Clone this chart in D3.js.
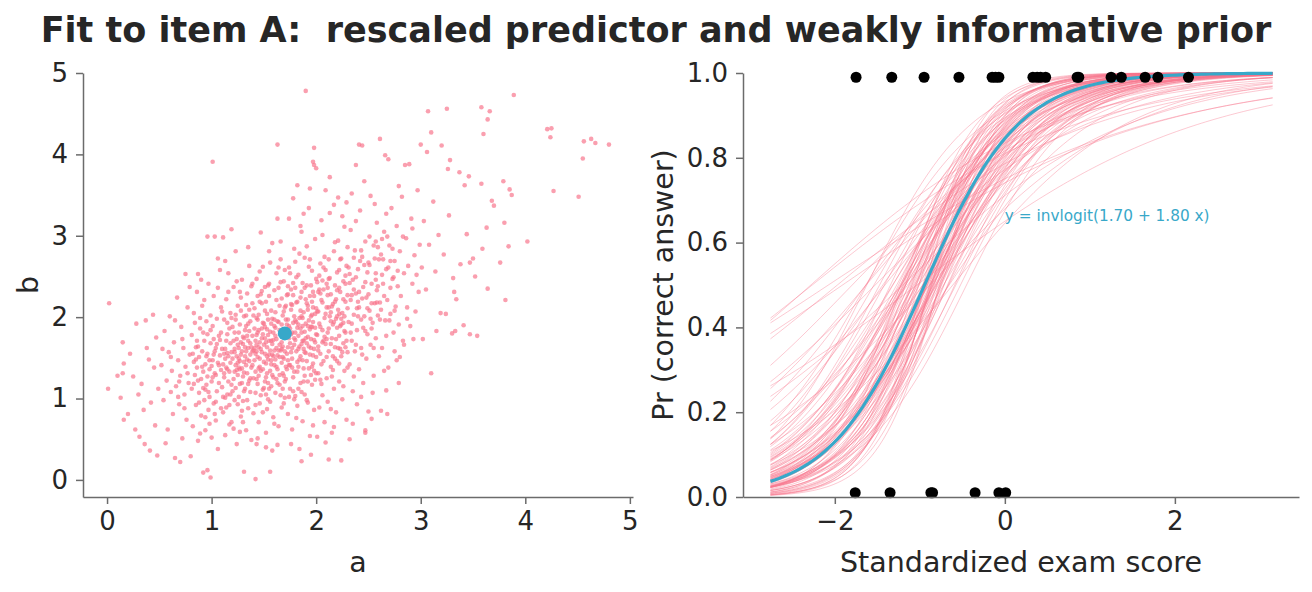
<!DOCTYPE html>
<html>
<head>
<meta charset="utf-8">
<script src="https://d3js.org/d3.v7.min.js"></script>
<style>
  body { margin: 0; background: #fff; }
  svg { display: block; }
  text { font-family: "DejaVu Sans", sans-serif; fill: #262626; white-space: pre; }
  .axis .domain, .axis .tick line { stroke: #6b6b6b; stroke-width: 1.5; }
  .axis .tick text { font-size: 26px; fill: #262626; }
</style>
</head>
<body>
<div id="chart"></div>
<script>
const chartTitle = "Fit to item A:  rescaled predictor and weakly informative prior";

// posterior draws of (a, b)
const posteriorDraws = [
  [0.02,2.17],[0.01,1.12],[0.13,1.01],[0.16,1.43],[0.15,1.31],[0.10,1.28],[0.16,0.74],[0.20,0.81],[0.15,1.69],[0.27,0.62],
  [0.31,0.53],[0.36,0.44],[0.41,0.36],[0.48,0.30],[0.22,1.55],[0.28,1.92],[0.33,1.18],[0.38,1.62],[0.42,0.95],[0.45,1.38],
  [0.30,1.05],[0.47,1.75],[0.35,0.86],[0.44,2.03],[0.25,1.27],[0.40,1.48],[0.49,1.12],[0.37,1.96],[0.46,0.67],
  [0.65,0.27],[0.70,0.22],[0.75,2.53],[0.80,0.29],[0.52,1.41],[0.54,0.98],[0.55,1.83],[0.57,1.22],[0.58,0.62],[0.59,1.57],
  [0.60,2.01],[0.61,1.08],[0.62,1.34],[0.63,0.81],[0.64,1.69],[0.66,1.15],[0.67,2.24],[0.68,1.47],[0.69,0.93],[0.70,1.28],
  [0.71,1.88],[0.72,0.51],[0.73,1.62],[0.74,1.05],[0.75,1.39],[0.76,0.74],[0.77,2.12],[0.78,1.19],[0.79,1.54],[0.53,1.61],
  [0.56,0.45],[0.65,1.96],[0.69,1.21],[0.72,1.73],[0.74,0.88],[0.77,1.31],[0.79,2.37],[0.61,1.51],[0.68,1.02],
  [0.87,2.53],[0.92,0.09],[0.96,0.12],[0.99,0.03],[0.96,2.99],[1.01,3.91],[1.03,2.99],
  [0.81,1.12],[0.81,1.78],[0.82,0.66],[0.83,1.45],[0.83,2.05],[0.84,1.29],[0.85,0.92],[0.85,1.63],[0.86,1.38],[0.86,2.31],
  [0.87,0.48],[0.88,1.51],[0.88,1.07],[0.89,1.86],[0.90,1.24],[0.90,0.79],[0.91,1.58],[0.91,2.14],[0.92,1.33],[0.93,0.98],
  [0.93,1.71],[0.94,1.42],[0.94,0.61],[0.95,1.95],[0.95,1.17],[0.96,1.55],[0.97,0.86],[0.97,2.41],[0.98,1.36],[0.98,1.02],
  [0.99,1.68],[1.00,1.21],[1.00,0.52],[1.01,1.89],[1.01,1.47],[1.02,0.94],[1.02,2.26],[1.03,1.31],[1.04,1.62],[1.04,0.73],
  [1.05,1.09],[1.05,1.98],[1.06,1.44],[1.06,0.38],[1.07,1.77],[1.07,1.19],[1.08,2.58],[1.08,1.53],[1.09,0.88],[1.09,1.35],
  [1.10,2.07],[1.10,1.14],[0.84,1.93],[0.87,1.22],[0.89,0.57],[0.92,1.81],[0.96,1.27],[0.99,2.02],[1.03,1.58],[1.06,2.72],
  [0.82,1.55],[0.90,2.46],[0.94,1.11],[0.98,0.69],[1.02,1.73],
  [1.11,2.98],[1.31,0.10],[1.11,1.42],[1.11,0.83],[1.12,1.97],[1.12,1.26],[1.13,1.61],[1.13,0.55],[1.14,2.22],[1.14,1.38],
  [1.15,1.05],[1.15,1.79],[1.16,1.52],[1.16,2.54],[1.17,0.92],[1.17,1.33],[1.18,1.68],[1.18,2.05],[1.19,1.17],[1.19,0.71],
  [1.20,1.49],[1.20,1.88],[1.21,1.24],[1.21,2.37],[1.22,0.98],[1.22,1.57],[1.23,1.41],[1.23,2.81],[1.24,1.73],[1.24,0.44],
  [1.25,1.29],[1.25,2.14],[1.26,1.62],[1.26,1.02],[1.27,1.91],[1.27,1.36],[1.28,0.78],[1.28,1.54],[1.29,2.46],[1.29,1.19],
  [1.30,1.67],[1.30,0.97],[1.31,2.01],[1.31,1.45],[1.32,1.12],[1.32,1.84],[1.33,0.61],[1.33,1.58],[1.34,2.29],[1.34,1.31],
  [1.35,1.71],[1.35,0.88],[1.36,1.46],[1.36,2.63],[1.37,1.08],[1.37,1.95],[1.38,1.38],[1.38,0.49],[1.39,1.77],[1.39,2.17],
  [1.40,1.25],[1.40,1.59],[1.12,1.55],[1.14,1.71],[1.16,1.21],[1.18,1.44],[1.20,1.09],[1.22,1.81],[1.24,1.35],[1.26,1.49],
  [1.28,2.08],[1.30,1.27],[1.32,1.52],[1.34,0.98],[1.36,1.83],[1.38,1.63],[1.13,2.69],[1.17,1.86],[1.21,0.63],[1.25,1.66],
  [1.29,0.85],[1.33,2.02],[1.37,1.54],[1.15,1.36],[1.19,1.99],[1.23,1.13],[1.27,0.59],[1.31,1.74],[1.35,1.18],[1.39,2.41],
  [1.13,1.01],[1.19,3.08],[1.27,2.31],[1.33,1.41],[1.29,1.58],[1.23,1.97],[1.35,2.86],
  [1.42,0.01],[1.43,0.44],[1.52,0.40],[1.56,0.10],[1.63,0.43],[1.63,4.12],
  [1.41,1.62],[1.41,2.11],[1.42,1.33],[1.42,0.92],[1.43,1.78],[1.43,2.47],[1.44,1.51],[1.44,1.18],[1.45,2.03],[1.45,0.71],
  [1.46,1.69],[1.46,1.39],[1.47,2.28],[1.47,1.04],[1.48,1.86],[1.48,1.57],[1.49,0.83],[1.49,2.62],[1.50,1.45],[1.50,1.92],
  [1.51,1.21],[1.51,1.74],[1.52,2.19],[1.52,0.58],[1.53,1.63],[1.53,1.31],[1.54,2.39],[1.54,1.97],[1.55,1.12],[1.55,1.54],
  [1.56,1.82],[1.56,0.96],[1.57,2.08],[1.57,1.42],[1.58,2.91],[1.58,1.67],[1.59,1.26],[1.59,0.77],[1.60,1.89],[1.60,2.33],
  [1.61,1.48],[1.61,1.07],[1.62,1.73],[1.62,2.54],[1.63,1.36],[1.63,1.95],[1.64,0.66],[1.64,1.59],[1.65,2.14],[1.65,1.17],
  [1.66,1.81],[1.66,2.71],[1.67,1.44],[1.67,0.89],[1.68,2.02],[1.68,1.64],[1.69,1.28],[1.69,2.44],[1.70,1.76],[1.70,1.01],
  [1.41,1.47],[1.43,1.99],[1.45,1.28],[1.47,1.61],[1.49,1.93],[1.51,1.55],[1.53,0.87],[1.55,2.26],[1.57,1.71],[1.59,1.52],
  [1.61,2.06],[1.63,1.19],[1.65,1.66],[1.67,2.23],[1.69,1.49],[1.42,1.71],[1.46,2.56],[1.50,1.13],[1.54,1.48],[1.58,1.98],
  [1.62,1.39],[1.66,1.04],[1.70,2.12],[1.44,0.51],[1.48,2.17],[1.52,1.69],[1.56,1.34],[1.60,0.69],[1.64,2.36],[1.68,1.84],
  [1.45,1.84],[1.49,1.36],[1.53,2.04],[1.57,1.15],[1.61,1.87],[1.65,1.51],[1.69,0.94],[1.47,3.04],[1.55,2.81],[1.63,3.21],
  [1.43,1.58],[1.51,2.37],[1.59,1.81],[1.67,1.61],[1.46,0.94],[1.54,1.78],[1.62,1.24],[1.70,2.58],[1.44,2.26],[1.58,0.36],
  [1.66,2.93],[1.52,1.05],[1.60,1.59],[1.68,1.31],[1.56,2.67],
  [1.86,0.23],[1.95,0.31],[1.90,4.78],[1.97,3.91],[1.98,3.87],[2.00,3.83],[1.98,4.08],
  [1.71,1.83],[1.71,1.24],[1.72,2.27],[1.72,1.55],[1.73,0.81],[1.73,1.97],[1.74,1.41],[1.74,2.61],[1.75,1.68],[1.75,1.12],
  [1.76,2.09],[1.76,1.79],[1.77,0.62],[1.77,1.49],[1.78,2.42],[1.78,1.93],[1.79,1.33],[1.79,2.84],[1.80,1.72],[1.80,1.03],
  [1.81,2.18],[1.81,1.58],[1.82,1.87],[1.82,0.91],[1.83,2.52],[1.83,1.39],[1.84,1.99],[1.84,1.64],[1.85,1.19],[1.85,3.12],
  [1.86,1.81],[1.86,2.31],[1.87,1.47],[1.87,0.72],[1.88,2.06],[1.88,1.71],[1.89,2.73],[1.89,1.28],[1.90,1.92],[1.90,1.56],
  [1.91,0.98],[1.91,2.39],[1.92,1.76],[1.92,2.14],[1.93,1.37],[1.93,3.34],[1.94,1.85],[1.94,0.54],[1.95,2.01],[1.95,1.62],
  [1.96,2.57],[1.96,1.17],[1.97,1.94],[1.97,1.43],[1.98,2.26],[1.98,0.86],[1.99,1.69],[1.99,2.96],[2.00,1.51],[2.00,2.11],
  [1.72,1.91],[1.74,1.02],[1.76,1.57],[1.78,1.26],[1.80,2.36],[1.82,1.45],[1.84,2.78],[1.86,1.08],[1.88,1.61],[1.90,2.22],
  [1.92,1.21],[1.94,1.54],[1.96,1.88],[1.98,1.34],[2.00,2.47],[1.73,2.38],[1.77,1.81],[1.81,0.76],[1.85,2.08],[1.89,1.82],
  [1.93,2.62],[1.97,0.67],[1.71,1.39],[1.75,2.54],[1.79,1.66],[1.83,1.12],[1.87,2.42],[1.91,1.68],[1.95,1.29],[1.99,2.04],
  [1.74,3.21],[1.78,3.46],[1.82,3.62],[1.86,3.05],[1.94,3.58],[1.76,0.44],[1.84,0.38],[1.92,0.95],[1.73,1.63],[1.77,2.15],
  [1.81,1.94],[1.85,1.52],[1.89,1.05],[1.93,1.96],[1.97,2.31],[1.75,1.86],[1.79,0.99],[1.83,1.77],[1.87,1.89],[1.91,2.87],
  [1.95,1.73],[1.99,1.23],[1.80,2.68],[1.88,3.27],[1.96,2.19],
  [2.12,0.25],[2.24,0.24],
  [2.01,1.78],[2.01,2.43],[2.02,1.31],[2.02,2.07],[2.03,0.89],[2.03,1.92],[2.04,2.66],[2.04,1.55],[2.05,2.21],[2.05,1.18],
  [2.06,1.84],[2.06,3.01],[2.07,1.46],[2.07,2.34],[2.08,0.71],[2.08,1.99],[2.09,1.67],[2.09,2.58],[2.10,1.25],[2.10,2.12],
  [2.11,1.81],[2.11,0.96],[2.12,2.47],[2.12,1.58],[2.13,2.01],[2.13,3.28],[2.14,1.39],[2.14,2.28],[2.15,1.74],[2.15,0.58],
  [2.16,2.16],[2.16,1.91],[2.17,2.81],[2.17,1.12],[2.18,1.63],[2.18,2.39],[2.19,1.98],[2.19,0.83],[2.20,2.55],[2.20,1.46],
  [2.21,2.09],[2.21,3.47],[2.22,1.77],[2.22,1.21],[2.23,2.31],[2.23,1.89],[2.24,2.72],[2.24,1.52],[2.25,0.99],[2.25,2.05],
  [2.26,1.68],[2.26,2.44],[2.27,3.11],[2.27,1.34],[2.28,2.19],[2.28,1.81],[2.29,0.74],[2.29,2.63],[2.30,1.57],[2.30,2.27],
  [2.02,1.64],[2.04,2.29],[2.06,1.04],[2.08,2.74],[2.10,1.73],[2.12,2.12],[2.14,0.87],[2.16,1.52],[2.18,2.92],[2.20,1.87],
  [2.22,2.36],[2.24,1.98],[2.26,1.15],[2.28,2.51],[2.03,2.51],[2.07,1.71],[2.11,2.36],[2.15,1.27],[2.19,2.22],[2.23,1.61],
  [2.27,2.01],[2.05,3.19],[2.09,3.56],[2.13,3.72],[2.17,3.38],[2.21,2.94],[2.25,3.24],[2.29,3.41],[2.01,0.53],[2.09,0.46],
  [2.17,0.65],[2.06,2.45],[2.14,1.95],[2.22,1.43],[2.30,2.86],
  [2.32,0.50],[2.38,3.87],[2.41,4.12],[2.44,4.11],[2.47,0.58],[2.47,0.61],[2.53,0.75],
  [2.31,1.94],[2.31,2.61],[2.32,1.42],[2.33,2.21],[2.33,3.07],[2.34,1.71],[2.35,2.46],[2.35,1.09],[2.36,2.03],[2.37,2.82],
  [2.37,1.58],[2.38,2.29],[2.39,1.84],[2.39,0.93],[2.40,2.59],[2.41,1.36],[2.41,2.12],[2.42,3.31],[2.43,1.97],[2.43,1.62],
  [2.44,2.74],[2.45,1.19],[2.45,2.37],[2.46,2.01],[2.47,2.93],[2.48,1.49],[2.48,2.24],[2.49,1.79],[2.50,2.67],[2.50,0.84],
  [2.51,2.08],[2.52,3.49],[2.52,1.66],[2.53,2.41],[2.54,1.93],[2.55,2.88],[2.55,1.28],[2.56,2.17],[2.57,2.54],[2.57,1.74],
  [2.58,3.16],[2.59,2.02],[2.60,1.52],[2.60,2.71],[2.32,2.42],[2.36,1.27],[2.40,2.01],[2.44,2.23],[2.49,2.55],[2.53,1.86],
  [2.58,2.33],[2.34,3.52],[2.38,3.18],[2.42,2.69],[2.46,3.67],[2.51,2.99],[2.56,3.39],[2.59,2.86],[2.35,0.69],[2.43,1.02],
  [2.54,1.07],[2.47,1.83],[2.39,2.11],[2.57,2.46],[2.33,1.81],
  [2.61,4.19],[2.62,0.85],[2.66,3.99],[2.67,1.10],[2.68,0.81],[2.69,3.94],[2.77,1.47],[2.79,1.19],[2.80,1.51],[2.84,1.66],
  [2.85,3.87],[2.89,3.88],[2.93,1.73],
  [2.61,2.18],[2.62,2.77],[2.63,1.62],[2.64,2.41],[2.65,3.05],[2.66,1.96],[2.67,2.59],[2.68,2.21],[2.69,1.38],[2.70,2.88],
  [2.71,2.04],[2.72,3.34],[2.73,2.47],[2.74,1.81],[2.75,2.69],[2.76,2.13],[2.77,3.12],[2.78,2.38],[2.79,1.91],[2.80,2.81],
  [2.81,2.26],[2.82,3.48],[2.83,1.71],[2.84,2.54],[2.86,2.97],[2.87,2.12],[2.88,2.63],[2.90,1.89],[2.91,3.21],[2.92,2.41],
  [2.94,2.76],[2.95,2.07],[2.97,3.56],[2.98,2.31],[2.99,2.89],[2.63,2.96],[2.67,3.27],[2.71,2.69],[2.75,1.58],[2.79,3.61],
  [2.83,2.99],[2.87,1.98],[2.92,3.09],[2.96,2.52],[2.65,1.34],
  [3.00,4.12],[3.02,1.73],[3.06,4.03],[3.07,4.53],[3.10,4.27],[3.10,1.31],[3.15,1.83],[3.19,2.05],[3.20,4.11],[3.24,2.04],
  [3.25,4.56],[3.26,3.82],[3.28,3.93],[3.30,1.80],[3.32,2.31],[3.33,1.83],[3.34,2.22],[3.37,3.78],[3.38,2.65],[3.41,1.90],
  [3.42,3.62],[3.44,3.02],[3.46,3.73],[3.47,1.79],[3.47,2.67],[3.50,2.72],[3.52,2.50],[3.54,1.77],[3.58,4.58],[3.58,3.64],
  [3.59,2.84],[3.60,4.25],[3.63,3.10],[3.64,4.43],[3.64,2.35],[3.66,4.53],[3.68,3.43],[3.70,3.37],[3.76,2.67],[3.79,3.67],
  [3.80,3.16],[3.81,2.21],[3.84,2.87],[3.85,3.57],[3.87,3.50],[3.89,4.73],[4.02,2.93],[4.21,4.31],[4.24,4.21],[4.25,4.32],
  [4.27,3.55],[4.51,3.48],[4.55,3.95],[4.56,4.16],[4.63,4.19],[4.67,4.14],[4.80,4.12],
  [3.01,2.61],[3.03,3.18],[3.05,2.34],[3.08,2.89],[3.12,3.42],[3.14,2.56],[3.17,3.01],[3.22,2.77],[3.27,3.25],[3.31,2.48],
  // denser core of the cloud
  [0.83,1.18],[0.86,1.71],[0.88,0.95],[0.91,1.39],[0.93,2.21],[0.95,1.52],[0.97,1.08],[0.99,1.84],[1.01,1.26],[1.03,0.81],
  [1.05,1.67],[1.07,1.41],[1.09,2.12],[1.11,1.02],[1.13,1.49],[1.15,1.93],[1.17,0.68],[1.19,1.57],[0.85,1.48],[0.89,1.99],
  [0.92,1.13],[0.96,1.79],[1.00,1.40],[1.04,0.96],[1.08,1.72],[1.12,1.31],[1.16,2.31],[1.18,1.05],[0.94,0.77],[1.02,1.54],
  [1.06,2.36],[1.10,1.61],[1.14,0.89],[0.87,1.64],[0.98,1.47],[1.04,1.29],[1.09,1.81],[1.15,1.56],
  [1.21,1.71],[1.22,1.33],[1.23,2.03],[1.24,1.52],[1.25,0.93],[1.26,1.81],[1.27,1.46],[1.28,2.24],[1.29,1.37],[1.30,1.76],
  [1.31,1.09],[1.32,1.63],[1.33,2.15],[1.34,1.48],[1.35,1.92],[1.36,1.22],[1.37,1.68],[1.38,2.38],[1.39,1.41],[1.40,0.82],
  [1.41,1.86],[1.42,1.55],[1.43,1.24],[1.44,1.97],[1.45,1.63],[1.46,2.19],[1.47,1.34],[1.48,1.74],[1.49,1.11],[1.50,1.66],
  [1.51,2.08],[1.52,1.43],[1.53,1.85],[1.54,1.19],[1.55,2.41],[1.56,1.59],[1.57,1.92],[1.58,1.29],[1.59,1.72],[1.60,1.41],
  [1.22,1.61],[1.25,1.44],[1.28,1.69],[1.31,1.32],[1.34,1.77],[1.37,1.25],[1.40,2.02],[1.43,1.66],[1.46,1.49],[1.49,1.79],
  [1.52,1.26],[1.55,1.71],[1.58,1.54],[1.24,2.44],[1.30,0.71],[1.36,2.09],[1.42,1.07],[1.48,2.32],[1.54,0.99],[1.60,1.97],
  [1.27,1.18],[1.33,1.89],[1.39,1.58],[1.45,1.37],[1.51,1.88],[1.57,1.47],[1.26,1.38],[1.35,1.62],[1.44,1.81],[1.53,1.52],
  [1.61,1.77],[1.62,2.21],[1.63,1.53],[1.64,1.94],[1.65,1.29],[1.66,2.43],[1.67,1.69],[1.68,1.12],[1.69,2.07],[1.70,1.58],
  [1.71,1.97],[1.72,1.36],[1.73,2.28],[1.74,1.74],[1.75,1.41],[1.76,2.16],[1.77,1.62],[1.78,1.09],[1.79,2.01],[1.80,1.81],
  [1.81,2.49],[1.82,1.33],[1.83,1.91],[1.84,1.48],[1.85,2.24],[1.86,1.67],[1.87,1.99],[1.88,1.37],[1.89,2.36],[1.90,1.74],
  [1.91,1.46],[1.92,2.09],[1.93,1.64],[1.94,2.26],[1.95,1.88],[1.96,1.39],[1.97,2.12],[1.98,1.61],[1.99,1.87],[2.00,1.79],
  [1.62,1.62],[1.65,1.84],[1.68,1.51],[1.71,2.14],[1.74,1.89],[1.77,1.38],[1.80,1.96],[1.83,1.61],[1.86,2.01],[1.89,1.57],
  [1.92,1.89],[1.95,2.39],[1.98,1.72],[1.64,2.61],[1.70,1.21],[1.76,2.34],[1.82,2.19],[1.88,1.21],[1.94,2.71],[2.00,1.31],
  [1.67,1.91],[1.73,1.47],[1.79,1.74],[1.85,1.86],[1.91,2.17],[1.97,1.53],[1.66,1.59],[1.78,2.27],[1.87,1.71],[1.96,2.03],
  [2.01,2.07],[2.02,1.59],[2.03,2.34],[2.04,1.88],[2.05,1.42],[2.06,2.18],[2.07,2.61],[2.08,1.76],[2.09,2.04],[2.10,1.51],
  [2.11,2.27],[2.12,1.86],[2.13,2.48],[2.14,1.67],[2.15,2.13],[2.16,1.35],[2.17,1.94],[2.18,2.19],[2.19,1.73],[2.20,2.33],
  [2.21,1.62],[2.22,2.04],[2.23,2.71],[2.24,1.91],[2.25,1.57],[2.26,2.22],[2.27,1.83],[2.28,2.41],[2.29,1.71],[2.30,2.11],
  [2.32,2.53],[2.34,1.92],[2.36,2.34],[2.38,1.66],[2.40,2.19],[2.02,2.31],[2.06,1.69],[2.10,2.41],[2.14,2.06],[2.18,1.49],
  [2.22,2.58],[2.26,1.93],[2.30,1.38],[2.34,2.27],[2.38,2.49],[2.04,1.23],[2.12,2.71],[2.20,2.01],[2.28,1.63],[2.36,2.73],
  [2.41,2.31],[2.43,2.82],[2.45,1.87],[2.47,2.43],[2.49,2.11],[2.51,2.64],[2.53,2.17],[2.55,1.62],[2.57,2.93],[2.59,2.38],
  [2.61,1.97],[2.63,2.52],[2.65,2.26],[2.67,1.77],[2.69,2.61],[2.71,2.36],[2.73,2.84],[2.75,2.08],[2.44,1.54],[2.50,2.28],
  [2.56,2.72],[2.62,2.09],[2.68,2.99],[2.74,2.49],[2.46,2.64],[2.52,1.98],[2.58,2.18],[2.64,2.71],[2.70,1.96],[2.78,2.57]
];

// (a, b) of the thin curves on the right
const curveDraws = [
  [1.45,0.64],[1.10,0.53],[1.62,0.71],[1.05,0.55],[1.30,0.66],[1.22,0.80],[0.62,0.60],[1.55,0.95],[0.90,0.75],[1.80,1.10],
  [1.49,0.83],[0.60,0.98],[0.78,1.19],[1.41,1.00],[0.75,0.85],[1.20,1.05],[1.65,1.15],[1.12,1.26],[2.86,2.97],
  [1.31,1.45],[2.05,2.21],[1.76,1.57],[1.48,1.86],[2.44,2.23],[1.18,1.44],[1.92,1.76],[1.60,1.89],[2.26,1.68],[1.05,1.09],
  [1.69,1.28],[2.12,2.47],[1.38,1.63],[1.84,1.99],[2.57,2.54],[0.98,1.36],[1.55,1.54],[2.19,1.98],[1.27,1.36],[1.88,2.06],
  [1.63,1.95],[2.35,2.46],[1.14,1.71],[1.79,1.66],[2.01,1.78],[1.42,1.33],[2.70,2.88],[1.22,1.81],[1.96,2.57],[1.51,1.74],
  [2.14,1.39],[0.91,1.58],[1.73,1.97],[2.40,2.01],[1.34,1.31],[1.99,1.69],[1.57,2.08],[2.29,2.63],[1.09,1.35],[1.85,1.52],
  [1.66,1.81],[2.09,1.67],[1.45,2.03],[2.51,2.08],[1.25,1.29],[1.90,1.56],[1.62,1.39],[2.20,2.55],[1.02,1.73],[1.81,2.18],
  [1.53,1.31],[2.32,1.42],[1.36,1.83],[2.03,1.92],[1.70,1.76],[2.63,1.62],[1.16,1.52],[1.94,1.85],[1.47,1.61],[2.17,2.81],
  [0.85,1.63],[1.77,1.49],[2.46,2.01],[1.29,1.58],[1.87,1.47],[1.59,1.52],[2.24,1.52],[1.11,1.42],[1.97,1.94],[1.44,1.18],
  [2.78,2.38],[1.20,1.49],[1.83,1.39],[1.67,2.23],[2.11,1.81],[1.40,1.59],[2.55,2.88],[0.94,1.42],[1.74,1.41],[2.07,1.46],
  [1.33,1.58],[1.91,2.39],[1.56,1.82],[2.38,2.29],[1.24,1.73],[0.73,1.62]
];

const pointEstimate = [1.70, 1.80];          // a, b
const correctX = [-1.75, -1.33, -0.95, -0.54, -0.15, -0.11, -0.07, 0.33, 0.38, 0.42, 0.48,
                  0.85, 0.87, 1.25, 1.37, 1.65, 1.80, 2.16];
const wrongX = [-1.76, -1.35, -0.87, -0.85, -0.35, -0.07, 0.01];
const curveXRange = [-2.757, 3.15];
const abTicks = [0, 1, 2, 3, 4, 5];
const scoreTicks = [-2, 0, 2];
const probTicks = [0, 0.2, 0.4, 0.6, 0.8, 1.0];

const pink = "#f77189", blue = "#38a8c9";
const W = 1312, H = 592;

const svg = d3.select("#chart").append("svg")
  .attr("width", W).attr("height", H);

svg.append("text")
  .attr("x", 656).attr("y", 42)
  .attr("text-anchor", "middle")
  .attr("xml:space", "preserve")
  .style("font-size", "35px").style("font-weight", "bold")
  .text(chartTitle);

const invlogit = v => 1 / (1 + Math.exp(-v));

// ---- left panel: a vs b ----
const xa = d3.scaleLinear().domain([-0.23, 5.03]).range([83, 633]);
const yb = d3.scaleLinear().domain([-0.21, 5.0]).range([497, 73]);

const left = svg.append("g");

left.append("g")
  .selectAll("circle")
  .data(posteriorDraws)
  .enter().append("circle")
  .attr("cx", d => xa(d[0]))
  .attr("cy", d => yb(d[1]))
  .attr("r", 2.3)
  .attr("fill", pink)
  .attr("fill-opacity", 0.68);

left.append("circle")
  .attr("cx", xa(pointEstimate[0]))
  .attr("cy", yb(pointEstimate[1]))
  .attr("r", 7)
  .attr("fill", blue);

left.append("g").attr("class", "axis")
  .attr("transform", "translate(0,497)")
  .call(d3.axisBottom(xa).tickValues(abTicks).tickFormat(d3.format("d"))
    .tickSize(7).tickSizeOuter(0).tickPadding(8));

left.append("g").attr("class", "axis")
  .attr("transform", "translate(83,0)")
  .call(d3.axisLeft(yb).tickValues(abTicks).tickFormat(d3.format("d"))
    .tickSize(7).tickSizeOuter(0).tickPadding(8));

left.append("text")
  .attr("x", 358).attr("y", 572)
  .attr("text-anchor", "middle")
  .style("font-size", "28.5px")
  .text("a");

left.append("text")
  .attr("transform", "translate(38,285) rotate(-90)")
  .attr("text-anchor", "middle")
  .style("font-size", "28.5px")
  .text("b");

// ---- right panel: fitted curves ----
const xs = d3.scaleLinear().domain([-3.08, 3.46]).range([743, 1299]);
const yp = d3.scaleLinear().domain([0, 1]).range([497, 73]);

const right = svg.append("g");
const grid = d3.range(0, 121).map(i => curveXRange[0] + (curveXRange[1] - curveXRange[0]) * i / 120);

const line = d3.line().x(d => xs(d[0])).y(d => yp(d[1]));

right.append("g")
  .selectAll("path")
  .data(curveDraws)
  .enter().append("path")
  .attr("d", ab => line(grid.map(x => [x, invlogit(ab[0] + ab[1] * x)])))
  .attr("fill", "none")
  .attr("stroke", pink)
  .attr("stroke-opacity", 0.38)
  .attr("stroke-width", 1);

right.append("path")
  .attr("d", line(grid.map(x => [x, invlogit(pointEstimate[0] + pointEstimate[1] * x)])))
  .attr("fill", "none")
  .attr("stroke", blue)
  .attr("stroke-width", 3.2);

right.append("g")
  .selectAll("circle")
  .data(correctX)
  .enter().append("circle")
  .attr("cx", d => xs(d))
  .attr("cy", yp(0.99))
  .attr("r", 5.5)
  .attr("fill", "#000");

right.append("g")
  .selectAll("circle")
  .data(wrongX)
  .enter().append("circle")
  .attr("cx", d => xs(d))
  .attr("cy", yp(0.01))
  .attr("r", 5.5)
  .attr("fill", "#000");

right.append("text")
  .attr("x", xs(0)).attr("y", yp(0.65))
  .style("font-size", "15.3px")
  .style("fill", blue)
  .text(`y = invlogit(${pointEstimate[0].toFixed(2)} + ${pointEstimate[1].toFixed(2)} x)`);

right.append("g").attr("class", "axis")
  .attr("transform", "translate(0,497)")
  .call(d3.axisBottom(xs).tickValues(scoreTicks).tickFormat(d3.format("d"))
    .tickSize(7).tickSizeOuter(0).tickPadding(8));

right.append("g").attr("class", "axis")
  .attr("transform", "translate(743,0)")
  .call(d3.axisLeft(yp).tickValues(probTicks).tickFormat(d3.format(".1f"))
    .tickSize(7).tickSizeOuter(0).tickPadding(8));

right.append("text")
  .attr("x", 1021).attr("y", 572)
  .attr("text-anchor", "middle")
  .style("font-size", "28.5px")
  .text("Standardized exam score");

right.append("text")
  .attr("transform", "translate(673,285) rotate(-90)")
  .attr("text-anchor", "middle")
  .style("font-size", "28.5px")
  .text("Pr (correct answer)");

svg.selectAll(".axis text").style("font-family", "'DejaVu Sans', sans-serif");
</script>
</body>
</html>
